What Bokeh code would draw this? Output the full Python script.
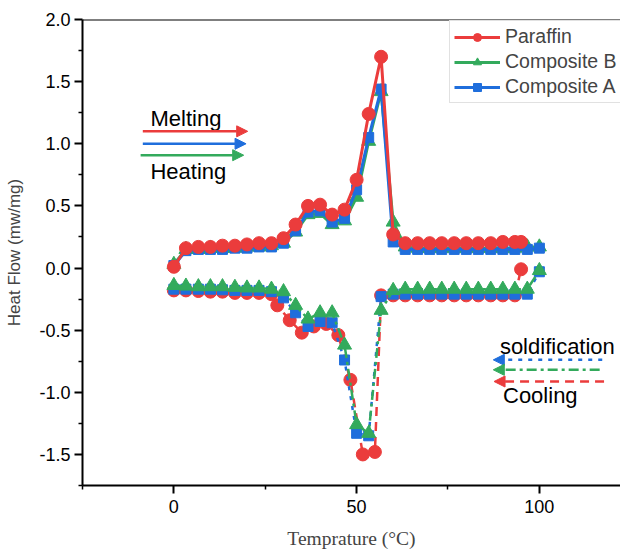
from bokeh.plotting import figure
from bokeh.models import (Range1d, Label, Arrow, NormalHead, Span, Legend, LegendItem,
                          FixedTicker, PrintfTickFormatter)
from bokeh.embed import file_html
from bokeh.resources import INLINE

# DSC heating / cooling scans: heat flow (mW/mg) against temperature (°C)
temp = [0, 3.3, 6.7, 10, 13.3, 16.7, 20, 23.3, 26.7, 30, 33.3, 36.7, 40, 43.3, 46.7,
        50, 53.3, 56.7, 60, 63.3, 66.7, 70, 73.3, 76.7, 80, 83.3, 86.7, 90, 93.3, 96.7, 100]

paraffin_heat_t = [0, 3.3, 6.7, 10, 13.3, 16.7, 20, 23.3, 26.7, 30, 33.3, 36.7, 40, 43.3, 46.7,
                   50, 53.3, 56.7, 60, 63.3, 66.7, 70, 73.3, 76.7, 80, 83.3, 86.7, 90, 93.3, 95]
paraffin_heat = [0.01, 0.16, 0.17, 0.17, 0.18, 0.18, 0.19, 0.20, 0.20, 0.24, 0.35, 0.50, 0.51, 0.43, 0.47,
                 0.71, 1.24, 1.70, 0.27, 0.20, 0.20, 0.20, 0.20, 0.20, 0.20, 0.20, 0.20, 0.21, 0.21, 0.21]
comp_b_heat = [0.03, 0.15, 0.15, 0.16, 0.16, 0.16, 0.17, 0.17, 0.18, 0.20, 0.29, 0.43, 0.44, 0.35, 0.38,
               0.57, 1.02, 1.42, 0.37, 0.17, 0.16, 0.16, 0.16, 0.16, 0.16, 0.16, 0.16, 0.16, 0.16, 0.17, 0.17]
comp_a_heat = [0.02, 0.14, 0.15, 0.15, 0.15, 0.16, 0.16, 0.17, 0.17, 0.20, 0.30, 0.45, 0.46, 0.37, 0.40,
               0.63, 1.05, 1.44, 0.21, 0.15, 0.15, 0.15, 0.15, 0.15, 0.15, 0.15, 0.15, 0.15, 0.15, 0.15, 0.16]

paraffin_cool_t = [0, 3.3, 6.7, 10, 13.3, 16.7, 20, 23.3, 26.7, 28.3, 31.7, 35, 38.3, 41.7, 45,
                   48.3, 51.7, 55, 56.7, 60, 63.3, 66.7, 70, 73.3, 76.7, 80, 83.3, 86.7, 90, 93.3, 95]
paraffin_cool = [-0.18, -0.18, -0.185, -0.19, -0.19, -0.20, -0.20, -0.20, -0.21, -0.30, -0.42, -0.52,
                 -0.47, -0.45, -0.54, -0.90, -1.50, -1.48, -0.22, -0.22, -0.22, -0.22, -0.22, -0.22,
                 -0.22, -0.22, -0.22, -0.22, -0.22, -0.22, -0.01]
comp_b_cool = [-0.14, -0.145, -0.15, -0.15, -0.15, -0.155, -0.16, -0.16, -0.17, -0.19, -0.30, -0.41,
               -0.36, -0.36, -0.62, -1.26, -1.33, -0.34, -0.18, -0.17, -0.17, -0.17, -0.17, -0.17,
               -0.17, -0.17, -0.17, -0.17, -0.17, -0.17, -0.02]
comp_a_cool = [-0.17, -0.17, -0.17, -0.17, -0.175, -0.18, -0.18, -0.18, -0.19, -0.24, -0.36, -0.47,
               -0.43, -0.44, -0.74, -1.33, -1.35, -0.23, -0.21, -0.21, -0.21, -0.21, -0.21, -0.21,
               -0.21, -0.21, -0.21, -0.21, -0.21, -0.21, -0.03]

x_ticks = [0, 50, 100]
x_minor = [-25, 25, 75]
y_ticks = [-1.5, -1.0, -0.5, 0.0, 0.5, 1.0, 1.5, 2.0]
y_minor = [-1.75, -1.25, -0.75, -0.25, 0.25, 0.75, 1.25, 1.75]

RED = "#EB3C3C"
GREEN = "#33AA5C"
BLUE = "#1F6EDC"
SANS = "Liberation Sans"

p = figure(width=620, height=551, output_backend="svg", toolbar_location=None,
           x_range=Range1d(-25, 122.2), y_range=Range1d(-1.75, 2.0),
           min_border_left=82, min_border_top=19, min_border_bottom=65, min_border_right=0)
p.grid.visible = False
p.outline_line_color = None
p.background_fill_color = "white"

for ax in (p.xaxis[0], p.yaxis[0]):
    ax.axis_line_width = 2
    ax.axis_line_color = "black"
    ax.major_tick_line_width = 2
    ax.minor_tick_line_width = 1.5
    ax.major_tick_in = 0
    ax.major_tick_out = 8
    ax.minor_tick_in = 0
    ax.minor_tick_out = 4
    ax.major_label_text_font = SANS
    ax.major_label_text_font_size = "18px"
    ax.major_label_text_color = "black"

p.xaxis.ticker = FixedTicker(ticks=x_ticks, minor_ticks=x_minor)
p.xaxis.formatter = PrintfTickFormatter(format="%d")
p.xaxis.major_label_standoff = 6
p.xaxis.axis_label = "Temprature (°C)"
p.xaxis.axis_label_text_font = "Liberation Serif"
p.xaxis.axis_label_text_font_size = "19.5px"
p.xaxis.axis_label_text_font_style = "normal"
p.xaxis.axis_label_standoff = 12

p.yaxis.ticker = FixedTicker(ticks=y_ticks, minor_ticks=y_minor)
p.yaxis.formatter = PrintfTickFormatter(format="%.1f")
p.yaxis.major_label_standoff = 4
p.yaxis.axis_label = "Heat Flow (mw/mg)"
p.yaxis.axis_label_text_font = SANS
p.yaxis.axis_label_text_font_size = "17px"
p.yaxis.axis_label_text_font_style = "normal"
p.yaxis.axis_label_standoff = 12

# top frame line
p.add_layout(Span(location=2.0, dimension="width", line_color="black", line_width=2))

# cooling scans (dashed styles), triangles drawn on top
p.line(paraffin_cool_t, paraffin_cool, line_color=RED, line_width=2.5, line_dash="9 6")
p.scatter(paraffin_cool_t, paraffin_cool, marker="circle", size=13, fill_color=RED, line_color=RED)
p.line(temp, comp_a_cool, line_color=BLUE, line_width=2.5, line_dash="4 6")
p.scatter(temp, comp_a_cool, marker="square", size=10, fill_color=BLUE, line_color=BLUE)
p.line(temp, comp_b_cool, line_color=GREEN, line_width=2.5, line_dash="10 4 3 4")
p.scatter(temp, comp_b_cool, marker="triangle", size=14, fill_color=GREEN, line_color=GREEN)

# heating scans (solid), paraffin on top
lb = p.line(temp, comp_b_heat, line_color=GREEN, line_width=3)
sb = p.scatter(temp, comp_b_heat, marker="triangle", size=14, fill_color=GREEN, line_color=GREEN)
la = p.line(temp, comp_a_heat, line_color=BLUE, line_width=3)
sa = p.scatter(temp, comp_a_heat, marker="square", size=10, fill_color=BLUE, line_color=BLUE)
lp = p.line(paraffin_heat_t, paraffin_heat, line_color=RED, line_width=3)
sp = p.scatter(paraffin_heat_t, paraffin_heat, marker="circle", size=13, fill_color=RED, line_color=RED)

legend = Legend(items=[LegendItem(label="Paraffin", renderers=[lp, sp]),
                       LegendItem(label="Composite B", renderers=[lb, sb]),
                       LegendItem(label="Composite A", renderers=[la, sa])],
                location=(367, 382), orientation="vertical",
                label_text_font=SANS, label_text_font_size="19.5px",
                glyph_width=46, glyph_height=20, label_height=20, spacing=2,
                padding=4, margin=0, label_standoff=5,
                border_line_color="#c4c4c4", border_line_width=1,
                background_fill_color="white", background_fill_alpha=1)
p.add_layout(legend)

# heating annotation
p.add_layout(Label(x=-6.4, y=1.20, text="Melting", text_font=SANS, text_font_size="22px",
                   text_baseline="alphabetic", text_color="black"))
p.add_layout(Label(x=-6.4, y=0.775, text="Heating", text_font=SANS, text_font_size="22px",
                   text_baseline="alphabetic", text_color="black"))
for (x0, x1, yy, col) in [(-8.5, 20.2, 1.10, RED), (-8.5, 19.75, 1.0, BLUE), (-9.1, 19.1, 0.908, GREEN)]:
    p.add_layout(Arrow(x_start=x0, y_start=yy, x_end=x1, y_end=yy, line_color=col, line_width=2.5,
                       end=NormalHead(size=11, fill_color=col, line_color=col, line_width=1)))

# cooling annotation
p.add_layout(Label(x=89.2, y=-0.635, text="soldification", text_font=SANS, text_font_size="22px",
                   text_baseline="alphabetic", text_color="black"))
p.add_layout(Label(x=90.05, y=-1.025, text="Cooling", text_font=SANS, text_font_size="22px",
                   text_baseline="alphabetic", text_color="black"))
for (x0, x1, yy, col, dash) in [(117.2, 87.4, -0.739, BLUE, "4 6"),
                                (116.5, 87.4, -0.819, GREEN, "10 4 3 4"),
                                (117.7, 87.6, -0.913, RED, "9 6")]:
    p.add_layout(Arrow(x_start=x0, y_start=yy, x_end=x1, y_end=yy, line_color=col, line_width=2.5,
                       line_dash=dash,
                       end=NormalHead(size=11, fill_color=col, line_color=col, line_width=1)))

open("out.html", "w").write(file_html(p, INLINE))
